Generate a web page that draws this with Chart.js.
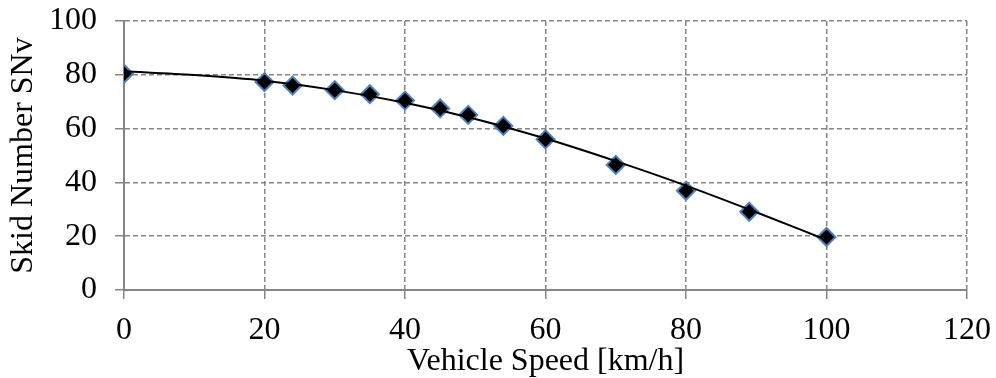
<!DOCTYPE html>
<html>
<head>
<meta charset="utf-8">
<script src="https://cdn.jsdelivr.net/npm/chart.js@4/dist/chart.umd.min.js"></script>
<style>
  html, body { margin: 0; padding: 0; background: #fff; }
  #wrap { width: 996px; height: 378px; }
</style>
</head>
<body>
<div id="wrap"><canvas id="skidChart" width="996" height="378"></canvas></div>
<script>
'use strict';

// measured points
const speed = [0, 20, 24, 30, 35, 40, 45, 49, 54, 60, 70, 80, 89, 100];
const skid = [80.4, 77.3, 76.0, 74.3, 72.8, 70.4, 67.5, 65.1, 61.0, 56.0, 46.5, 36.9, 29.1, 19.7];

// trend line
const trendSpeed = [0, 10, 20, 30, 40, 50, 60, 70, 80, 90, 100];
const trendSkid = [81.3, 79.9, 77.8, 74.3, 69.6, 63.6, 56.3, 47.9, 38.8, 28.9, 18.6];

const xTicks = [0, 20, 40, 60, 80, 100, 120];
const yTicks = [0, 20, 40, 60, 80, 100];

const FONT = "'Liberation Serif', 'Times New Roman', serif";

function toXY(xs, ys) {
  return xs.map(function (x, i) { return { x: x, y: ys[i] } });
}

let context = document.querySelector('#skidChart').getContext('2d');
new Chart(context, {
  type: 'scatter',
  data: {
    datasets: [{
      label: 'trend',
      data: toXY(trendSpeed, trendSkid),
      showLine: true,
      borderColor: '#000',
      borderWidth: 2,
      pointRadius: 0,
      cubicInterpolationMode: 'monotone',
    }, {
      label: 'SNv',
      data: toXY(speed, skid),
      pointStyle: 'rectRot',
      pointRadius: 9,
      pointBorderWidth: 2,
      pointBackgroundColor: '#000',
      pointBorderColor: '#4f81bd',
    }],
  },
  options: {
    responsive: false,
    animation: false,
    layout: { padding: { top: 21, right: 29, left: 0, bottom: 0 } },
    plugins: {
      legend: { display: false },
      tooltip: { enabled: false },
    },
    scales: {
      x: {
        type: 'linear',
        min: 0,
        max: 120,
        afterBuildTicks: function (axis) { axis.ticks = xTicks.map(function (v) { return { value: v } }) },
        afterFit: function (axis) {
          axis.height = 88;
          axis.paddingLeft = 0;
          axis.paddingRight = 0;
        },
        grid: { color: '#858585', lineWidth: 1.5, tickLength: 9 },
        border: { display: true, color: '#858585', width: 2, dash: [5, 3] },
        ticks: { color: '#000', padding: 12, font: { family: FONT, size: 32 } },
        title: {
          display: true,
          text: 'Vehicle Speed [km/h]',
          color: '#000',
          padding: { top: 0, bottom: -3 },
          font: { family: FONT, size: 32 },
        },
      },
      y: {
        min: 0,
        max: 100,
        afterBuildTicks: function (axis) { axis.ticks = yTicks.map(function (v) { return { value: v } }) },
        afterFit: function (axis) {
          axis.width = 124;
          axis.paddingTop = 0;
          axis.paddingBottom = 0;
        },
        grid: { color: '#858585', lineWidth: 1.5, tickLength: 9 },
        border: { display: true, color: '#858585', width: 2, dash: [5, 3] },
        ticks: { color: '#000', padding: 18, font: { family: FONT, size: 32 } },
        title: {
          display: true,
          text: 'Skid Number SNv',
          color: '#000',
          padding: { top: 4, bottom: 0 },
          font: { family: FONT, size: 32 },
        },
      },
    },
  },
});
</script>
</body>
</html>
